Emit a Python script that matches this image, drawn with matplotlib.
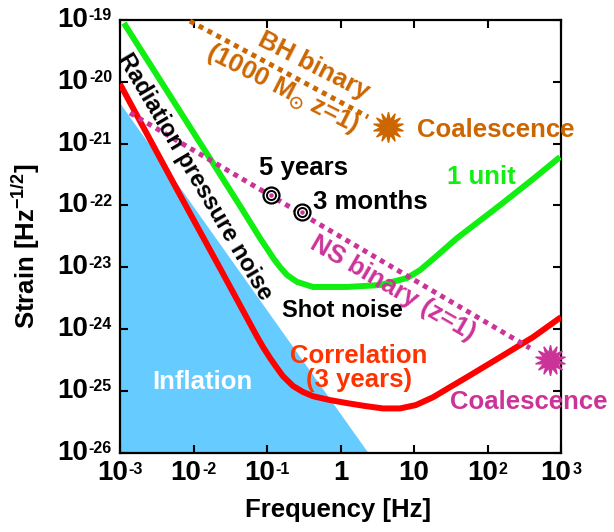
import matplotlib
matplotlib.use("Agg")
import matplotlib.pyplot as plt
import matplotlib.transforms as mtransforms
from matplotlib.ticker import NullLocator, FixedLocator

plt.rcParams['font.family'] = ['Liberation Sans', 'DejaVu Sans']
plt.rcParams['font.weight'] = 'bold'
plt.rcParams['mathtext.fontset'] = 'custom'
plt.rcParams['mathtext.rm'] = 'Liberation Sans:bold'
plt.rcParams['mathtext.it'] = 'Liberation Sans:bold:italic'
plt.rcParams['mathtext.bf'] = 'Liberation Sans:bold'
plt.rcParams['mathtext.sf'] = 'Liberation Sans:bold'
plt.rcParams['mathtext.fallback'] = 'stixsans'

# ---------------- data ----------------
# "1 unit" sensitivity curve
unit_freq = [1.13e-3, 2.15e-2, 0.043, 0.0804, 0.103, 0.124, 0.150, 0.187,
             0.256, 0.423, 1.22, 3.44, 8.04, 12.1, 18.2, 38.5, 148, 416, 969]
unit_strain = [8.9e-20, 3.6e-22, 9.8e-23, 2.96e-23, 1.90e-23, 1.36e-23,
               1.01e-23, 7.5e-24, 5.8e-24, 4.8e-24, 4.8e-24, 5.15e-24, 6.7e-24,
               9.0e-24, 1.36e-23, 2.96e-23, 1.01e-22, 2.67e-22, 6.07e-22]

# "Correlation (3 years)" sensitivity curve
corr_freq = [1.0e-3, 6.5e-3, 2.3e-2, 0.073, 0.0883, 0.110, 0.137, 0.165,
             0.226, 0.309, 0.423, 0.72, 1.22, 2.15, 3.78, 6.45, 10.6, 18.2,
             30.9, 52.6, 148, 416, 1000]
corr_strain = [9.2e-21, 1.5e-22, 9.6e-24, 7.6e-25, 5.12e-25, 3.40e-25,
               2.34e-25, 1.73e-25, 1.20e-25, 9.6e-26, 8.2e-26, 7.1e-26,
               6.35e-26, 5.7e-26, 5.2e-26, 5.2e-26, 5.9e-26, 7.9e-26, 1.15e-25,
               1.67e-25, 3.5e-25, 7.4e-25, 1.56e-24]

# Inflation region (upper edge)
infl_freq = [1.0e-3, 2.37]
infl_strain = [4.5e-21, 1.0e-26]

# NS binary (z=1) track and its coalescence
ns_freq = [1.37e-3, 378]
ns_strain = [3.13e-21, 4.93e-25]
ns_coal_freq = [708]
ns_coal_strain = [3.15e-25]

# BH binary (1000 Msun, z=1) track and its coalescence
bh_freq = [8.95e-3, 2.37]
bh_strain = [9.6e-20, 2.7e-21]
bh_coal_freq = [4.43]
bh_coal_strain = [1.86e-21]

# time-before-coalescence markers on the NS track
mark_freq = [0.112, 0.296]
mark_strain = [1.47e-22, 7.9e-23]
mark_labels = ['5 years', '3 months']

x_tick_exps = [-3, -2, -1, 0, 1, 2, 3]
x_tick_texts = [('10', '-3'), ('10', '-2'), ('10', '-1'), ('1', ''),
                ('10', ''), ('10', '2'), ('10', '3')]
y_tick_exps = [-19, -20, -21, -22, -23, -24, -25, -26]

# colours
C_GREEN = '#11EE11'
C_RED = '#FF0000'
C_CORR = '#FF3300'
C_ORANGE = '#CC6600'
C_MAGENTA = '#CC3399'
C_BLUE = '#66CCFF'

# ---------------- figure ----------------
fig = plt.figure(figsize=(6.14, 5.32), dpi=100)
ax = fig.add_axes([120/614, (532-452.7)/532, 441/614, 432.7/532])
ax.set_xscale('log')
ax.set_yscale('log')
ax.set_xlim(1e-3, 1e3)
ax.set_ylim(1e-26, 1e-19)

ax.fill_between(infl_freq, infl_strain, 1e-26, color=C_BLUE, lw=0, zorder=1)
ax.plot(corr_freq, corr_strain, color=C_RED, lw=4.3, solid_joinstyle='round',
        solid_capstyle='butt', zorder=3)
ax.plot(unit_freq, unit_strain, color=C_GREEN, lw=4.3, solid_joinstyle='round',
        solid_capstyle='butt', zorder=3)
ax.plot(ns_freq, ns_strain, color=C_MAGENTA, lw=3.6, ls=(0, (1, 1)), zorder=4)
ax.plot(bh_freq, bh_strain, color=C_ORANGE, lw=3.6, ls=(0, (1, 1)), zorder=4,
        clip_on=False)
ax.plot(bh_coal_freq, bh_coal_strain, ls='none', marker=(14, 1, 0), ms=22,
        color=C_ORANGE, mec=C_ORANGE, zorder=5, clip_on=False)
ax.plot(ns_coal_freq, ns_coal_strain, ls='none', marker=(14, 1, 0), ms=22,
        color=C_MAGENTA, mec=C_MAGENTA, zorder=5, clip_on=False)

ax.plot(mark_freq, mark_strain, ls='none', marker='o', ms=11.5, mfc='white',
        mec='black', mew=1.6, zorder=6)
ax.plot(mark_freq, mark_strain, ls='none', marker='o', ms=6.5, mfc='white',
        mec='black', mew=1.4, zorder=6)
ax.plot(mark_freq, mark_strain, ls='none', marker='o', ms=3.2, mfc=C_MAGENTA,
        mec=C_MAGENTA, mew=0, zorder=6)

# spines & ticks
for s in ax.spines.values():
    s.set_linewidth(1.6)
ax.xaxis.set_major_locator(FixedLocator([10.0**e for e in x_tick_exps]))
ax.yaxis.set_major_locator(FixedLocator([10.0**e for e in y_tick_exps]))
ax.xaxis.set_minor_locator(NullLocator())
ax.yaxis.set_minor_locator(NullLocator())
ax.tick_params(which='major', direction='in', length=6, width=1.5,
               top=True, right=True, labelbottom=False, labelleft=False)

# tick labels drawn as base + small exponent
groups = []
xt = ax.get_xaxis_transform()
for e, (base, ex) in zip(x_tick_exps, x_tick_texts):
    if ex:
        t1 = ax.text(10.0**e, -0.048, base, transform=xt, ha='left', va='center',
                     fontsize=20, fontweight='bold')
        t2 = ax.annotate(ex, xy=(1, 1), xycoords=t1, xytext=(0.5, -1),
                         textcoords='offset points', ha='left', va='top',
                         fontsize=11.5, fontweight='bold')
        groups.append((t1, t2, 'center'))
    else:
        ax.text(10.0**e, -0.048, base, transform=xt, ha='center', va='center',
                fontsize=20, fontweight='bold')
yt = ax.get_yaxis_transform()
for e in y_tick_exps:
    t1 = ax.text(-0.018, 10.0**e, '10', transform=yt, ha='left', va='center',
                 fontsize=20, fontweight='bold')
    t2 = ax.annotate(str(e), xy=(1, 1), xycoords=t1, xytext=(0.5, -1),
                     textcoords='offset points', ha='left', va='top',
                     fontsize=11.5, fontweight='bold')
    groups.append((t1, t2, 'right'))

# axis labels
fig.text(338/614, (532-510)/532, 'Frequency [Hz]', ha='center', va='center',
         fontsize=18.5, fontweight='bold')
fig.text(26/614, (532-246)/532, r'Strain [Hz$^{-1/2}$]', ha='center',
         va='center', rotation=90, fontsize=18.5, fontweight='bold')

# annotations
kw = dict(fontweight='bold', zorder=7, rotation_mode='anchor')
ax.text(0.435, 1.8e-20, 'BH binary', color=C_ORANGE, fontsize=18.5,
        rotation=-27, ha='center', va='center', **kw)
ax.text(0.16, 7.4e-21, r'(1000 M$_{\mathbf{\odot}}$ z=1)', color=C_ORANGE,
        fontsize=18.5, rotation=-27, ha='center', va='center', **kw)
ax.text(11.0, 1.66e-21, 'Coalescence', color=C_ORANGE, fontsize=18.5,
        ha='left', va='center', **kw)
ax.text(0.309, 4.0e-22, mark_labels[0], color='black', fontsize=18.5,
        ha='center', va='center', **kw)
ax.text(2.52, 1.13e-22, mark_labels[1], color='black', fontsize=18.5,
        ha='center', va='center', **kw)
ax.text(81.7, 2.9e-22, '1 unit', color=C_GREEN, fontsize=18.5,
        ha='center', va='center', **kw)
ax.text(0.0103, 2.9e-22, 'Radiation pressure noise', color='black', fontsize=17,
        rotation=-59.4, ha='center', va='center', **kw)
ax.text(5.18, 4.6e-24, 'NS binary (z=1)', color=C_MAGENTA, fontsize=18.5,
        rotation=-30, ha='center', va='center', **kw)
ax.text(1.05, 2.03e-24, 'Shot noise', color='black', fontsize=17,
        ha='center', va='center', **kw)
ax.text(1.79, 3.66e-25, 'Correlation', color=C_CORR, fontsize=18.5,
        ha='center', va='center', **kw)
ax.text(1.79, 1.5e-25, '(3 years)', color=C_CORR, fontsize=18.5,
        ha='center', va='center', **kw)
ax.text(0.0131, 1.39e-25, 'Inflation', color='white', fontsize=18.5,
        ha='center', va='center', **kw)
ax.text(30.9, 6.6e-26, 'Coalescence', color=C_MAGENTA, fontsize=18.5,
        ha='left', va='center', **kw)

# shift base+exponent groups so that they are centred / right aligned
fig.canvas.draw()
r = fig.canvas.get_renderer()
for t1, t2, mode in groups:
    b1 = t1.get_window_extent(r)
    b2 = t2.get_window_extent(r)
    W = b2.x1 - b1.x0
    shift = -W / 2 if mode == 'center' else -W
    t1.set_transform(t1.get_transform() +
                     mtransforms.ScaledTranslation(shift / fig.dpi, 0,
                                                   fig.dpi_scale_trans))

fig.savefig('out.png', dpi=100)
